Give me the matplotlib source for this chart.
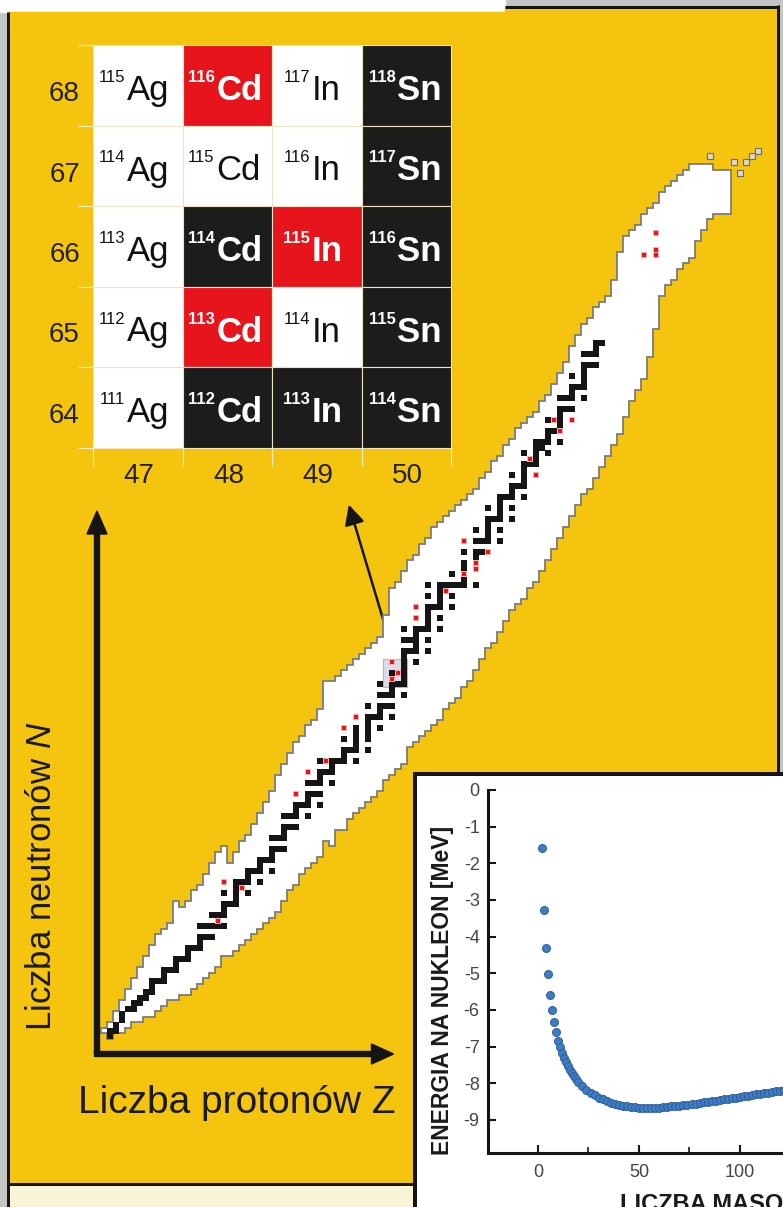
import numpy as np
import matplotlib
matplotlib.use("Agg")
import matplotlib.pyplot as plt
from matplotlib.patches import Rectangle, Polygon, FancyArrowPatch

plt.rcParams['font.family'] = ['Liberation Sans', 'DejaVu Sans']
plt.rcParams['mathtext.fontset'] = 'custom'
plt.rcParams['mathtext.rm'] = 'Liberation Sans'
plt.rcParams['mathtext.it'] = 'Liberation Sans:italic'
plt.rcParams['axes.unicode_minus'] = False

# ---- nuclide chart: known nuclides per Z (N range), Z = 0..104 ----
nmin = [1, 0, 1, 1, 2, 3, 3, 4, 4, 5,
        6, 7, 7, 8, 8, 9, 10, 11, 12, 13,
        15, 15, 16, 17, 18, 19, 20, 21, 22, 23,
        25, 27, 28, 30, 31, 32, 33, 36, 35, 38,
        38, 40, 41, 42, 43, 44, 45, 47, 48, 49,
        50, 53, 54, 55, 56, 57, 58, 60, 61, 62,
        64, 65, 67, 69, 71, 72, 74, 76, 78, 79,
        80, 82, 83, 85, 87, 89, 91, 93, 95, 97,
        99, 100, 102, 104, 106, 108, 110, 113, 116, 118,
        120, 124, 129, 135, 137, 138, 140, 141, 142, 145,
        147, 149, 150, 150, 150]
nmax = [1, 2, 4, 6, 8, 10, 12, 14, 16, 18,
        19, 20, 24, 23, 24, 26, 27, 29, 31, 33,
        34, 31, 33, 35, 36, 38, 40, 42, 44, 47,
        49, 51, 53, 54, 56, 57, 59, 64, 64, 65,
        66, 67, 68, 69, 70, 71, 72, 76, 81, 82,
        84, 86, 87, 89, 90, 92, 93, 94, 95, 96,
        97, 98, 99, 101, 102, 104, 105, 107, 108, 110,
        111, 112, 113, 115, 116, 118, 120, 122, 125, 127,
        129, 130, 132, 133, 134, 137, 142, 145, 146, 147,
        149, 150, 151, 153, 154, 155, 156, 157, 158, 158,
        158, 158, 157, 157, 157]

# stable nuclides: Z -> list of N
stable = {
    1: [0, 1], 2: [1, 2], 3: [3, 4], 4: [5], 5: [5, 6], 6: [6, 7], 7: [7, 8],
    8: [8, 9, 10], 9: [10], 10: [10, 11, 12], 11: [12], 12: [12, 13, 14],
    13: [14], 14: [14, 15, 16], 15: [16], 16: [16, 17, 18, 20], 17: [18, 20],
    18: [18, 20, 22], 19: [20, 22], 20: [20, 22, 23, 24, 26], 21: [24],
    22: [24, 25, 26, 27, 28], 23: [28], 24: [26, 28, 29, 30], 25: [30],
    26: [28, 30, 31, 32], 27: [32], 28: [30, 32, 33, 34, 36], 29: [34, 36],
    30: [34, 36, 37, 38, 40], 31: [38, 40], 32: [38, 40, 41, 42], 33: [42],
    34: [40, 42, 43, 44, 46], 35: [44, 46], 36: [42, 44, 46, 47, 48, 50],
    37: [48], 38: [46, 48, 49, 50], 39: [50], 40: [50, 51, 52, 54], 41: [52],
    42: [50, 52, 53, 54, 55, 56], 44: [52, 54, 55, 56, 57, 58, 60], 45: [58],
    46: [56, 58, 59, 60, 62, 64], 47: [60, 62], 48: [58, 60, 62, 63, 64, 66],
    49: [64], 50: [62, 64, 65, 66, 67, 68, 69, 70, 72, 74], 51: [70, 72],
    52: [68, 70, 71, 72, 73, 74], 53: [74], 54: [70, 72, 74, 75, 76, 77, 78, 80, 82],
    55: [78], 56: [74, 76, 78, 79, 80, 81, 82], 57: [82], 58: [78, 80, 82, 84],
    59: [82], 60: [82, 83, 85, 86, 88], 62: [82, 87, 88, 90, 92], 63: [88, 90],
    64: [90, 91, 92, 93, 94, 96], 65: [94], 66: [90, 92, 94, 95, 96, 97, 98],
    67: [98], 68: [94, 96, 98, 99, 100, 102], 69: [100],
    70: [98, 100, 101, 102, 103, 104, 106], 71: [104], 72: [104, 105, 106, 107, 108],
    73: [107, 108], 74: [106, 108, 109, 110, 112], 75: [110],
    76: [108, 111, 112, 113, 114, 116], 77: [114, 116], 78: [114, 116, 117, 118, 120],
    79: [118], 80: [116, 118, 119, 120, 121, 122, 124], 81: [122, 124],
    82: [122, 124, 125, 126], 83: [126],
}
# very long-lived (red)
longlived_Z = [19, 20, 23, 32, 34, 37, 40, 42, 48, 48, 49, 52, 52, 57, 60, 60, 62, 62,
               64, 71, 72, 75, 76, 78, 90, 92, 92, 92]
longlived_N = [21, 28, 27, 44, 48, 50, 56, 58, 65, 68, 66, 76, 78, 81, 84, 90, 85, 86,
               88, 105, 102, 112, 110, 112, 142, 142, 143, 146]
# isolated superheavy cells
extra_Z = [101, 105, 106, 107, 108, 109]
extra_N = [160, 159, 157, 159, 160, 161]

# table of isotopes
table_Z = [47, 48, 49, 50]
table_N = [68, 67, 66, 65, 64]
table_sym = ["Ag", "Cd", "In", "Sn"]

# binding energy per nucleon
mass_A = [2, 3, 4, 5, 6, 7, 8, 9, 10, 11, 12, 13, 14, 15, 16, 17, 18, 19, 20,
          22, 24, 26, 28, 30, 32, 34, 36, 38, 40, 42, 44, 46, 48, 50, 52, 54, 56,
          58, 60, 62, 64, 66, 68, 70, 72, 74, 76, 78, 80, 82, 84, 86, 88, 90, 92,
          94, 96, 98, 100, 102, 104, 106, 108, 110, 112, 114, 116, 118, 120, 122,
          124, 126]
energy = [-1.58, -3.27, -4.31, -5.03, -5.58, -5.99, -6.33, -6.61, -6.85, -7.02,
          -7.17, -7.31, -7.43, -7.54, -7.64, -7.73, -7.81, -7.88, -7.95,
          -8.07, -8.17, -8.26, -8.33, -8.39, -8.44, -8.49, -8.53, -8.56, -8.59,
          -8.61, -8.63, -8.64, -8.65, -8.66, -8.66, -8.67, -8.67, -8.66, -8.66,
          -8.65, -8.64, -8.63, -8.62, -8.61, -8.60, -8.58, -8.57, -8.55, -8.54,
          -8.52, -8.50, -8.49, -8.47, -8.45, -8.44, -8.42, -8.40, -8.39, -8.37,
          -8.35, -8.34, -8.32, -8.30, -8.29, -8.27, -8.25, -8.24, -8.22, -8.21,
          -8.19, -8.18, -8.16]

YELLOW = '#f4c40f'
BLACK = '#151515'
RED = '#e8141c'

W, H = 783, 1207
fig = plt.figure(figsize=(W / 100, H / 100), dpi=100)
fig.patch.set_facecolor('#c4c4c4')

# overlay in pixel units
ax = fig.add_axes([0, 0, 1, 1])
ax.set_xlim(0, W)
ax.set_ylim(H, 0)
ax.axis('off')


def line(x0, y0, x1, y1, lw=3, color=BLACK, z=5):
    ax.plot([x0, x1], [y0, y1], color=color, lw=lw * 0.72,
            solid_capstyle='butt', zorder=z)


ax.add_patch(Rectangle((0, 0), 505, 12, color='white', zorder=1))
ax.add_patch(Rectangle((8, 12), 770, 1171, color=YELLOW, zorder=1))
ax.add_patch(Rectangle((505, 7), 273, 5, color=YELLOW, zorder=1))
ax.add_patch(Rectangle((9, 1185), 406, 22, color='#faf4d6', zorder=1))
ax.add_patch(Rectangle((415, 773), 368, 434, color='white', zorder=2))
line(7.5, 12, 7.5, 1207)
line(505, 6.5, 779, 6.5)
line(777.5, 5, 777.5, 773)
line(7, 1183.5, 415, 1183.5)
line(415, 773, 415, 1207, lw=4)
line(413, 773.5, 783, 773.5, lw=4)

# ---- isotope table ----
cell_w, cell_h = 89.5, 80.5
tx0, ty0 = 93, 45
sym_dx = {"Ag": 34, "Cd": 34, "In": 40, "Sn": 36}
for r, n in enumerate(table_N):
    y0 = ty0 + r * cell_h
    ax.text(80, y0 + 56, str(n), ha='right', va='baseline', fontsize=20,
            color='#222222', zorder=6)
    for c, (z, sym) in enumerate(zip(table_Z, table_sym)):
        x0 = tx0 + c * cell_w
        if n in [nn for zz, nn in zip(longlived_Z, longlived_N) if zz == z]:
            fc, tc, fw = RED, 'white', 'bold'
        elif n in stable.get(z, []):
            fc, tc, fw = '#1c1c1c', 'white', 'bold'
        else:
            fc, tc, fw = 'white', '#111111', 'normal'
        ax.add_patch(Rectangle((x0, y0), cell_w, cell_h, facecolor=fc,
                               edgecolor='#ece4c4', lw=0.8, zorder=4))
        ax.text(x0 + sym_dx[sym] - 2, y0 + 37, str(z + n), ha='right', va='baseline',
                fontsize=12, color=tc, fontweight=fw, zorder=6)
        ax.text(x0 + sym_dx[sym], y0 + 55, sym, ha='left', va='baseline',
                fontsize=25, color=tc, fontweight=fw, zorder=6)
for r in range(len(table_N) + 1):
    line(78, ty0 + r * cell_h, tx0, ty0 + r * cell_h, lw=1.2, color='#f6eec8')
for c in range(len(table_Z) + 1):
    line(tx0 + c * cell_w, ty0 + len(table_N) * cell_h, tx0 + c * cell_w, 466,
         lw=1.2, color='#f6eec8')
for c, z in enumerate(table_Z):
    ax.text(tx0 + c * cell_w + 46, 483, str(z), ha='center', va='baseline',
            fontsize=20, color='#222222', zorder=6)

# ---- axis arrows and labels ----
ax.arrow(97, 1054, 0, -543, width=5, head_width=20, head_length=23,
         length_includes_head=True, color=BLACK, zorder=5)
ax.arrow(94.5, 1054, 299, 0, width=5, head_width=20, head_length=22,
         length_includes_head=True, color=BLACK, zorder=5)
ax.text(78, 1113, "Liczba protonów Z", ha='left', va='baseline', fontsize=28,
        color='#1a1a1a', zorder=6)
ax.text(42, 876, "Liczba neutronów $N$", ha='center', va='center', fontsize=25,
        rotation=90, color='#1a1a1a', zorder=6)

# ---- nuclide band in (Z, N) coordinates ----
Z0_PX, DZ_PX, N0_PX, DN_PX = 104.0, 6.0, 1036.0, 5.5
axn = fig.add_axes([0, 0, 1, 1])
axn.patch.set_alpha(0)
axn.axis('off')
axn.set_xlim(-Z0_PX / DZ_PX, (W - Z0_PX) / DZ_PX)
axn.set_ylim((N0_PX - H) / DN_PX, N0_PX / DN_PX)

zs = np.arange(len(nmin))
top = []
for z, h in zip(zs, nmax):
    top += [(z - 0.5, h + 0.5), (z + 0.5, h + 0.5)]
bot = []
for z, l in zip(zs[::-1], nmin[::-1]):
    bot += [(z + 0.5, l - 0.5), (z - 0.5, l - 0.5)]
axn.add_patch(Polygon(top + bot, closed=True, facecolor='white',
                      edgecolor='#7c7c7c', lw=1.3, zorder=1))
axn.scatter(extra_Z, extra_N, marker='s', s=16, facecolor='#d8d8d8',
            edgecolor='#6c6c6c', lw=0.8, zorder=1)
axn.add_patch(Rectangle((min(table_Z) - 0.5, min(table_N) - 0.5), len(table_Z),
                        len(table_N), facecolor='#dcdce8', edgecolor='#b4b4c4',
                        lw=0.8, zorder=2))

sz = [z for z in stable for n in stable[z]]
sn = [n for z in stable for n in stable[z]]
axn.scatter(sz, sn, marker='s', s=17, color=BLACK, lw=0, zorder=3)
axn.scatter(longlived_Z, longlived_N, marker='s', s=20, color='#f3b2b2', lw=0, zorder=4)
axn.scatter(longlived_Z, longlived_N, marker='s', s=8, color=RED, lw=0, zorder=5)

ax.add_patch(FancyArrowPatch((348, 502), (Z0_PX + DZ_PX * 48.5,
                                          N0_PX - DN_PX * (max(table_N) + 0.5)),
                             arrowstyle='<|-|>,head_length=0.6,head_width=0.3',
                             mutation_scale=20, lw=1.8, color=BLACK, zorder=7))

# ---- binding energy inset ----
x_l, x_r, y_t, y_b = 488, 790.5, 790, 1153
axe = fig.add_axes([x_l / W, 1 - y_b / H, (x_r - x_l) / W, (y_b - y_t) / H])
axe.patch.set_alpha(0)
axe.set_xlim(-24.75, 125)
axe.set_ylim(-9.9, 0)
axe.scatter(mass_A, energy, s=32, facecolor='#3a7fc6', edgecolor='#35609c',
            lw=0.8, zorder=3, clip_on=False)
for s in ['top', 'right']:
    axe.spines[s].set_visible(False)
for s in ['left', 'bottom']:
    axe.spines[s].set_linewidth(2.2)
    axe.spines[s].set_color(BLACK)
axe.set_yticks(range(0, -10, -1))
axe.set_yticklabels([str(v) for v in range(0, -10, -1)])
axe.set_xticks([0, 50, 100])
axe.set_xticks([25, 75], minor=True)
axe.tick_params(axis='both', which='major', direction='in', length=6, width=1.5,
                labelsize=13, labelcolor='#444444', color=BLACK)
axe.tick_params(axis='x', which='minor', direction='in', length=4, width=1.2, color=BLACK)
axe.tick_params(axis='y', pad=6)
axe.tick_params(axis='x', pad=8)
ax.text(442, 990, "ENERGIA NA NUKLEON [MeV]", rotation=90, ha='center', va='center',
        fontsize=16.5, fontweight='bold', color='#1a1a1a', zorder=6)
ax.text(620, 1193, "LICZBA MASOWA", ha='left', va='top', fontsize=17,
        fontweight='bold', color='#1a1a1a', zorder=6)

fig.savefig('out.png', dpi=100, facecolor=fig.get_facecolor())
